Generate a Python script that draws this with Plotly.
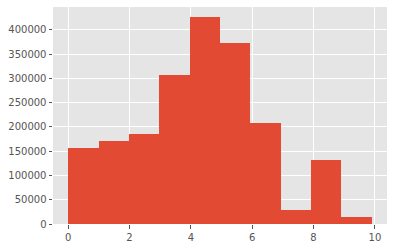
import plotly.graph_objects as go

bin_edges = [0.0, 0.99, 1.98, 2.97, 3.96, 4.95, 5.94, 6.93, 7.92, 8.91, 9.9]
counts = [156000, 170500, 185000, 308000, 426000, 374000, 207500, 28800, 131500, 14000]
x_ticks = [0, 2, 4, 6, 8, 10]
y_ticks = [0, 50000, 100000, 150000, 200000, 250000, 300000, 350000, 400000]

centers = [(a + b) / 2 for a, b in zip(bin_edges[:-1], bin_edges[1:])]
widths = [b - a for a, b in zip(bin_edges[:-1], bin_edges[1:])]

fig = go.Figure(go.Bar(x=centers, y=counts, width=widths,
                       marker=dict(color="#E24A33", line=dict(width=0))))

span = bin_edges[-1] - bin_edges[0]
fig.update_layout(
    width=393, height=248,
    margin=dict(l=53, r=6, t=7, b=24),
    paper_bgcolor="white", plot_bgcolor="#E5E5E5",
    font=dict(family="DejaVu Sans", size=10, color="#555555"),
    showlegend=False, bargap=0,
)
fig.update_xaxes(range=[bin_edges[0] - 0.05 * span, bin_edges[-1] + 0.05 * span],
                 tickvals=x_ticks, ticktext=[str(t) for t in x_ticks],
                 ticks="outside", ticklen=3.5, tickcolor="#555555",
                 showgrid=True, gridcolor="white", gridwidth=1, zeroline=False,
                 showline=False)
fig.update_yaxes(range=[0, max(counts) * 1.05],
                 tickvals=y_ticks, ticktext=[str(t) for t in y_ticks],
                 ticks="outside", ticklen=3.5, tickcolor="#555555",
                 showgrid=True, gridcolor="white", gridwidth=1, zeroline=False,
                 showline=False)

fig.write_html("out.html")
